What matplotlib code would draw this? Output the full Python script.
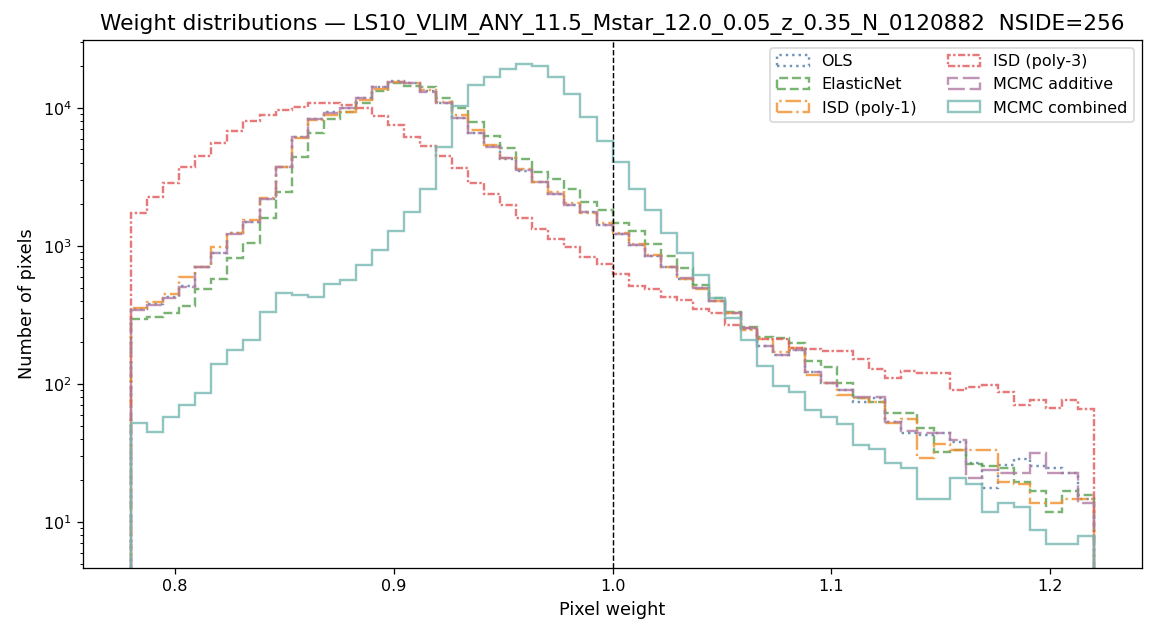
import numpy as np
import matplotlib
matplotlib.use("Agg")
import matplotlib.pyplot as plt

# histogram binning (pixel weight)
W_MIN = 0.78
W_MAX = 1.22
N_BINS = 60

# counts per bin
ols = [350, 380, 425, 510, 700, 890, 1240, 1500, 2200, 3760,
       6150, 8250, 9300, 10000, 11800, 14100, 15600, 15200, 13200, 10900,
       8420, 6600, 5300, 4300, 3500, 2900, 2380, 1982, 1760, 1430,
       1222, 1020, 850, 705, 580, 495, 396, 325, 250, 187,
       162, 176, 123, 101, 90, 74, 79, 53, 44, 43,
       44, 38, 26.6, 17.5, 25.9, 28.4, 25.5, 24.5, 22.5, 14.6]
elasticnet = [294, 304, 325, 367, 486, 574, 815, 1047, 1587, 2475,
              4390, 6620, 8280, 9400, 10940, 13340, 15250, 14420, 14260, 11760,
              9950, 7960, 6270, 5110, 4250, 3460, 3040, 2576, 2080, 1815,
              1476, 1278, 1040, 843, 689, 521, 418, 334, 260, 218,
              214, 197, 147, 132, 101, 79, 74, 62, 62, 48,
              32, 33, 26.3, 25.5, 24.5, 19.6, 16.9, 11.9, 16.8, 15.6]
isd_poly1 = [357, 391, 447, 593, 708, 979, 1250, 1543, 2240, 3758,
             6030, 8180, 8900, 9400, 11430, 13640, 15520, 15250, 13490, 11120,
             8900, 6930, 5390, 4320, 3600, 2922, 2470, 2037, 1741, 1476,
             1237, 1033, 861, 708, 574, 490, 396, 325, 246, 210,
             171, 181, 116, 101, 83, 79, 74, 52, 56, 29,
             37, 33, 33, 33, 19.6, 18.8, 13.8, 13.7, 14.6, 14.6]
isd_poly3 = [1727, 2254, 2877, 3717, 4487, 5550, 6850, 8090, 8900, 9620,
             10230, 10820, 10940, 10520, 9990, 8750, 7540, 6200, 5310, 4490,
             3657, 2877, 2368, 1982, 1587, 1328, 1118, 989, 828, 737,
             628, 514, 486, 428, 406, 348, 329, 268, 253, 211,
             211, 182, 178, 173, 172, 152, 128, 110, 124, 120,
             121, 91, 95, 98, 88, 70, 76, 67, 76, 66]
mcmc_additive = [344, 374, 418, 507, 701, 885, 1222, 1500, 2179, 3758,
                 6200, 8280, 9250, 9950, 11760, 14120, 15520, 15250, 13120, 10810,
                 8420, 6560, 5250, 4320, 3556, 2893, 2380, 1982, 1760, 1420,
                 1222, 1016, 847, 708, 583, 493, 396, 325, 253, 187,
                 162, 176, 123, 102, 90, 81, 81, 53, 46, 44,
                 44, 39, 20.7, 23.8, 22.5, 22.5, 31.5, 22.8, 22.5, 13.8]
mcmc_combined = [52, 45, 58, 70, 86, 140, 176, 208, 331, 454,
                 441, 430, 527, 567, 728, 935, 1291, 1754, 2576, 5190,
                 10330, 14690, 16860, 19050, 20830, 20150, 16860, 12620, 8550, 5770,
                 4080, 2576, 1824, 1237, 885, 617, 418, 299, 208, 134,
                 97, 88, 65, 58, 51, 36, 34, 26.6, 24.5, 14.6,
                 14.6, 20.7, 18.8, 11.9, 13.7, 12.8, 8.8, 6.9, 6.9, 7.9]

labels = ["OLS", "ElasticNet", "ISD (poly-1)", "ISD (poly-3)",
          "MCMC additive", "MCMC combined"]
colors = ["#4e79a7", "#59a14f", "#f28e2b", "#e15759", "#b07aa1", "#76b7b2"]
styles = [":", "--", "-.", (0, (3, 1, 1, 1)), (0, (7, 2)), "-"]

edges = np.linspace(W_MIN, W_MAX, N_BINS + 1)
centers = 0.5 * (edges[:-1] + edges[1:])

fig = plt.figure(figsize=(10.001, 5.511), dpi=115.6)
ax = fig.add_axes([0.0718, 0.1083, 0.9161, 0.8289])

series = [ols, elasticnet, isd_poly1, isd_poly3, mcmc_additive, mcmc_combined]
for counts, lab, col, ls in zip(series, labels, colors, styles):
    ax.hist(centers, bins=edges, weights=counts, histtype="step", log=True,
            color=col, linestyle=ls, linewidth=1.5, alpha=0.8, label=lab)

ax.axvline(1.0, color="k", linestyle="--", linewidth=0.9)

ax.set_xlim(0.758, 1.242)
ax.set_ylim(4.64, 31100)
ax.set_xlabel("Pixel weight", fontsize=11)
ax.set_ylabel("Number of pixels", fontsize=11)
ax.set_title("Weight distributions — LS10_VLIM_ANY_11.5_Mstar_12.0_0.05_z_0.35_N_0120882  NSIDE=256",
             fontsize=13.5)
ax.legend(ncol=2, loc="upper right")

fig.savefig("out.png", dpi=115.6)
